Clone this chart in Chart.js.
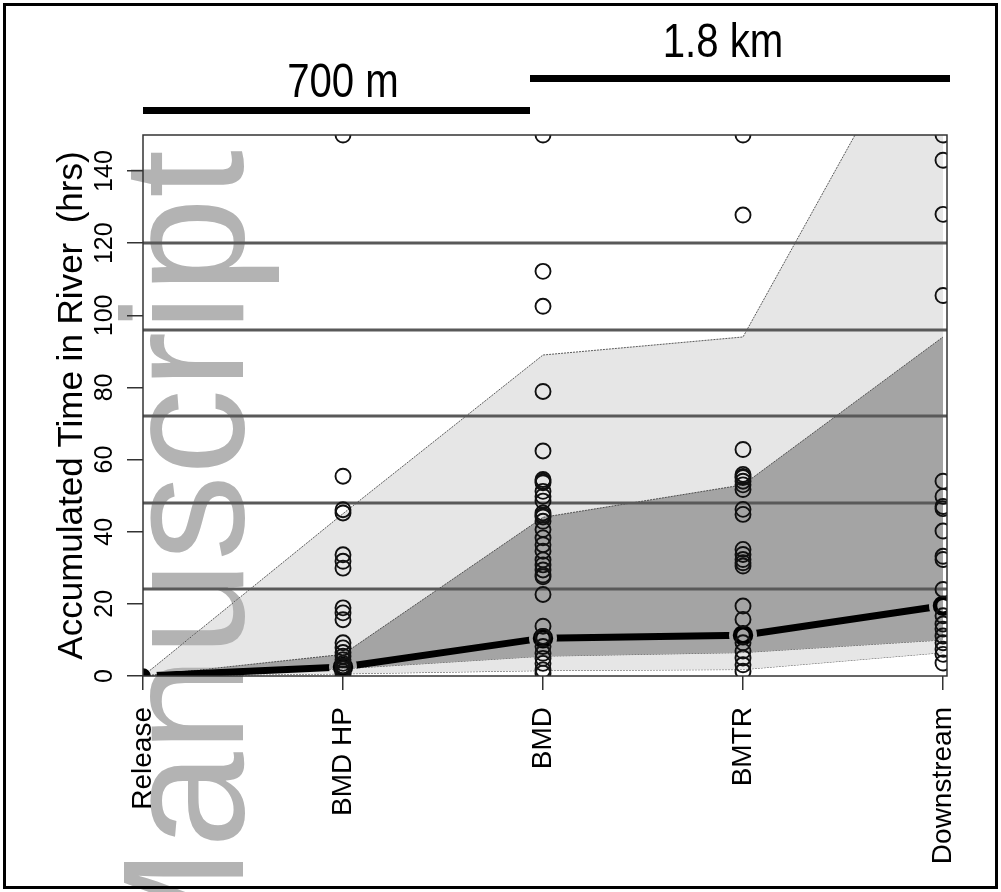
<!DOCTYPE html>
<html>
<head>
<meta charset="utf-8">
<script src="https://cdn.jsdelivr.net/npm/chart.js@4.4.0/dist/chart.umd.min.js"></script>
<style>
  html, body { margin: 0; padding: 0; background: #fff; }
</style>
</head>
<body>
<canvas id="chart" width="1001" height="892"></canvas>
<script>
// Stations along the river (x = 1..5)
const stations = ['Release', 'BMD HP', 'BMD', 'BMTR', 'Downstream'];

// Accumulated hours per fish at each station
const releaseHrs = [0];
const bmdHpHrs = [150, 55.4, 46.1, 45.2, 33.6, 31.8, 29.9, 18.9, 17.5, 15.6, 9.2, 7.8, 6.5, 5.5, 4.5, 3.5, 2.8, 2, 1.2, 0.6];
const bmdHrs = [150, 112.2, 102.5, 78.9, 62.4, 54.5, 54, 53.6, 51.2, 49.8, 48.5, 45.2, 44.6, 44.1, 42.9, 40.6, 38.3, 36.4, 34.6, 32.2, 30.8, 29.4, 28, 27.5, 22.6, 13.8, 11, 8.2, 6.3, 4.9, 3.5, 1.7, 0.8];
const bmtrHrs = [150, 127.8, 62.8, 55.9, 55.3, 55, 54, 53, 51.7, 46.2, 44.8, 35.1, 33.7, 32.3, 31.4, 30.5, 19.4, 15.7, 9.2, 6.9, 5, 3.1, 1.3];
const downstreamHrs = [150, 143, 128, 105.5, 54, 49.8, 47, 46.4, 40.2, 33.2, 32.3, 24, 16.7, 14.4, 13, 11.1, 9.2, 7.4, 6, 3.6];

// Median and quantile envelopes
const medianHrs = [0, 2.5, 10.5, 11.3, 19.5];
const outerUpper = [0, 45, 89, 94, 194];
const innerUpper = [0, 6, 44, 53, 94];
const innerLower = [0, 2, 5.5, 6.5, 10];
const outerLower = [0, 0.6, 1.5, 1.8, 6.5];

// Day markers and axis ticks
const hourLines = [24, 48, 72, 96, 120];
const yTicks = [0, 20, 40, 60, 80, 100, 120, 140];

// Reach distances drawn above the plot
const distLabels = ['700 m', '1.8 km'];
const distSpans = [[1, 2.935], [2.935, 5.035]];
const distLabelX = [2, 3.9];

const toPoints = (vals, x) => vals.map(v => ({ x: x, y: v }));
const toSeries = vals => vals.map((v, i) => ({ x: i + 1, y: v }));

const MEDIAN_LINE = 5;
const INNER_BAND = 7;

const circleSet = (vals, x) => ({
    data: toPoints(vals, x),
    showLine: false,
    pointRadius: 7.5,
    pointBorderWidth: 1.9,
    pointBorderColor: '#111',
    pointBackgroundColor: 'rgba(0,0,0,0)',
    clip: 0,
    order: 0
});

const bandLine = (vals, fill, color, order) => ({
    data: toSeries(vals),
    showLine: true,
    borderColor: '#333',
    borderWidth: 0.8,
    borderDash: [2, 1],
    pointRadius: 0,
    backgroundColor: color,
    fill: fill,
    clip: 0,
    order: order
});

const TEXT = '"Liberation Sans", Arial, sans-serif';

const decorations = {
    id: 'decorations',
    beforeDatasetDraw(chart, args) {
        if (args.index !== MEDIAN_LINE) return;
        // type "b" look: leave a gap round each median point
        const { ctx, chartArea } = chart;
        ctx.save();
        ctx.beginPath();
        ctx.rect(0, 0, chart.width, chart.height);
        args.meta.data.forEach(pt => {
            ctx.moveTo(pt.x + 14, pt.y);
            ctx.arc(pt.x, pt.y, 14, 0, Math.PI * 2);
        });
        ctx.clip('evenodd');
    },
    afterDatasetDraw(chart, args) {
        const { ctx, chartArea, scales } = chart;
        if (args.index === MEDIAN_LINE) {
            ctx.restore();
            return;
        }
        if (args.index !== INNER_BAND) return;
        ctx.save();
        ctx.strokeStyle = '#595959';
        ctx.lineWidth = 3;
        hourLines.forEach(h => {
            const y = Math.round(scales.y.getPixelForValue(h));
            ctx.beginPath();
            ctx.moveTo(chartArea.left, y);
            ctx.lineTo(chartArea.right, y);
            ctx.stroke();
        });
        ctx.restore();
    },
    afterDraw(chart) {
        const { ctx, chartArea, scales } = chart;
        const xs = scales.x, ys = scales.y;
        ctx.save();

        // plot box
        ctx.strokeStyle = '#333';
        ctx.lineWidth = 1.5;
        ctx.strokeRect(chartArea.left, chartArea.top, chartArea.right - chartArea.left, chartArea.bottom - chartArea.top);

        ctx.fillStyle = '#000';

        // y tick labels
        ctx.font = '25px ' + TEXT;
        ctx.textAlign = 'center';
        ctx.textBaseline = 'alphabetic';
        yTicks.forEach(v => {
            ctx.save();
            ctx.translate(112, ys.getPixelForValue(v));
            ctx.rotate(-Math.PI / 2);
            ctx.fillText(String(v), 0, 0);
            ctx.restore();
        });

        // y title
        ctx.save();
        ctx.font = '35px ' + TEXT;
        ctx.translate(82, (chartArea.top + chartArea.bottom) / 2);
        ctx.rotate(-Math.PI / 2);
        ctx.fillText('Accumulated Time in River  (hrs)', 0, 0);
        ctx.restore();

        // x labels
        ctx.font = '28px ' + TEXT;
        ctx.textAlign = 'right';
        ctx.textBaseline = 'middle';
        stations.forEach((s, i) => {
            ctx.save();
            ctx.translate(xs.getPixelForValue(i + 1), 707);
            ctx.rotate(-Math.PI / 2);
            ctx.fillText(s, 0, 0);
            ctx.restore();
        });

        // distance bars
        const barY = [107, 75];
        const textY = [97, 57];
        distLabels.forEach((lab, i) => {
            const x1 = xs.getPixelForValue(distSpans[i][0]);
            const x2 = xs.getPixelForValue(distSpans[i][1]);
            ctx.fillRect(x1, barY[i], x2 - x1, 7);
            ctx.save();
            ctx.translate(xs.getPixelForValue(distLabelX[i]), textY[i]);
            ctx.scale(0.82, 1);
            ctx.font = '49px ' + TEXT;
            ctx.textAlign = 'center';
            ctx.textBaseline = 'alphabetic';
            ctx.fillText(lab, 0, 0);
            ctx.restore();
        });

        // outer frame
        ctx.strokeStyle = '#000';
        ctx.lineWidth = 3;
        ctx.strokeRect(4.5, 4.5, 992, 883);

        // watermark
        ctx.globalCompositeOperation = 'darken';
        ctx.fillStyle = '#b3b3b3';
        ctx.font = '172px ' + TEXT;
        ctx.textAlign = 'right';
        ctx.textBaseline = 'alphabetic';
        ctx.translate(243, 150);
        ctx.rotate(-Math.PI / 2);
        ctx.fillText('Manuscript', 0, 0);

        ctx.restore();
    }
};

new Chart(document.getElementById('chart'), {
    type: 'scatter',
    data: {
        datasets: [
            {
                data: toPoints(releaseHrs, 1),
                showLine: false,
                pointRadius: 7,
                pointBorderWidth: 1.5,
                pointBorderColor: '#000',
                pointBackgroundColor: '#000',
                clip: 0,
                order: 0
            },
            circleSet(bmdHpHrs, 2),
            circleSet(bmdHrs, 3),
            circleSet(bmtrHrs, 4),
            circleSet(downstreamHrs, 5),
            {
                // median line (points drawn by the next set)
                data: toSeries(medianHrs),
                showLine: true,
                borderColor: '#000',
                borderWidth: 7,
                pointRadius: 0,
                clip: 0,
                order: 1
            },
            bandLine(outerUpper, 9, '#e6e6e6', 10),
            bandLine(innerUpper, 8, '#a4a4a4', 9),
            bandLine(innerLower, false, 'rgba(0,0,0,0)', 9),
            bandLine(outerLower, false, 'rgba(0,0,0,0)', 10),
            {
                data: toSeries(medianHrs).slice(1),
                showLine: false,
                pointRadius: 8,
                pointBorderWidth: 4.5,
                pointBorderColor: '#000',
                pointBackgroundColor: 'rgba(0,0,0,0)',
                clip: 0,
                order: 0
            }
        ]
    },
    options: {
        responsive: false,
        animation: false,
        layout: { padding: { top: 135, right: 54, left: 0, bottom: 0 } },
        plugins: { legend: { display: false }, tooltip: { enabled: false } },
        scales: {
            x: {
                type: 'linear',
                min: 1,
                max: 5.02,
                afterBuildTicks: s => { s.ticks = stations.map((_, i) => ({ value: i + 1 })); },
                afterFit: s => { s.height = 216; },
                ticks: { display: false },
                grid: { drawOnChartArea: false, drawTicks: true, tickLength: 14, color: '#333', lineWidth: 1.5 },
                border: { display: false }
            },
            y: {
                type: 'linear',
                min: 0,
                max: 150,
                afterBuildTicks: s => { s.ticks = yTicks.map(v => ({ value: v })); },
                afterFit: s => { s.width = 143; },
                ticks: { display: false },
                grid: { drawOnChartArea: false, drawTicks: true, tickLength: 16, color: '#333', lineWidth: 1.5 },
                border: { display: false }
            }
        }
    },
    plugins: [decorations]
});
</script>
</body>
</html>
